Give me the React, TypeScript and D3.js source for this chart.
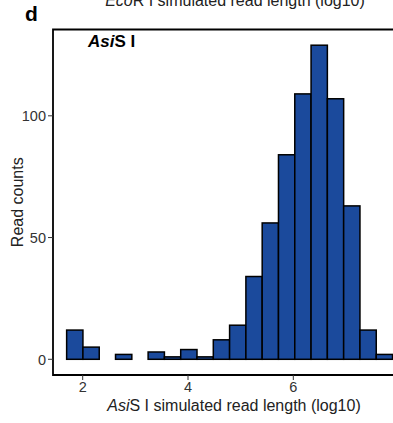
import React from "react";
import * as d3 from "d3";

const binStart = 1.695;
const binWidth = 0.3095;
const counts = [12, 5, 0, 2, 0, 3, 1, 4, 1, 8, 14, 34, 56, 84, 109, 129, 107, 63, 12, 2];
const yTicks = [0, 50, 100];
const xTicks = [2, 4, 6, 8];

export default function App() {
  const W = 393, H = 423;
  const left = 53, top = 29.5, bottom = 375, right = 430;
  const x = d3.scaleLinear().domain([2, 6]).range([82.7, 293.3]);
  const yMax = d3.max(counts)!;
  const y = d3.scaleLinear().domain([-0.05 * yMax, yMax * 1.05]).range([bottom, top]);
  const bins = counts.map((c, i) => ({ x0: binStart + i * binWidth, x1: binStart + (i + 1) * binWidth, c }));
  const font = "Arial, 'Liberation Sans', sans-serif";
  return (
    <svg width={W} height={H} style={{ position: "absolute", left: 0, top: 0, display: "block" }} fontFamily={font}>
      <rect width={W} height={H} fill="#fff" />
      <text x={25} y={21} fontSize={21} fontWeight="bold">d</text>
      <text x={235} y={6} fontSize={16} textAnchor="middle" fill="#222">
        <tspan fontStyle="italic">Eco</tspan>R I simulated read length (log10)
      </text>
      {bins.map((b, i) => (
        <rect key={i} x={x(b.x0)} y={y(b.c)} width={x(b.x1) - x(b.x0)} height={y(0) - y(b.c)}
          fill="#1b4a9c" stroke="#000" strokeWidth={1.5} />
      ))}
      <path d={`M${right},${top}H${left}V${bottom}H${right}`} fill="none" stroke="#000" strokeWidth={1.8} />
      <text x={88} y={47} fontSize={17} fontWeight="bold">
        <tspan fontStyle="italic">Asi</tspan>S I
      </text>
      {yTicks.map((t) => (
        <g key={t}>
          <line x1={left - 5} x2={left} y1={y(t)} y2={y(t)} stroke="#333" strokeWidth={1} />
          <text x={left - 7} y={y(t)} dy="0.36em" fontSize={14.5} textAnchor="end" fill="#333">{t}</text>
        </g>
      ))}
      {xTicks.map((t) => (
        <g key={t}>
          <line x1={x(t)} x2={x(t)} y1={bottom} y2={bottom + 5} stroke="#333" strokeWidth={1} />
          <text x={x(t)} y={392} fontSize={14.5} textAnchor="middle" fill="#333">{t}</text>
        </g>
      ))}
      <text x={234} y={411} fontSize={16} textAnchor="middle" fill="#222">
        <tspan fontStyle="italic">Asi</tspan>S I simulated read length (log10)
      </text>
      <text transform={`translate(23,${(top + bottom) / 2}) rotate(-90)`} fontSize={16} textAnchor="middle" fill="#222">Read counts</text>
    </svg>
  );
}
